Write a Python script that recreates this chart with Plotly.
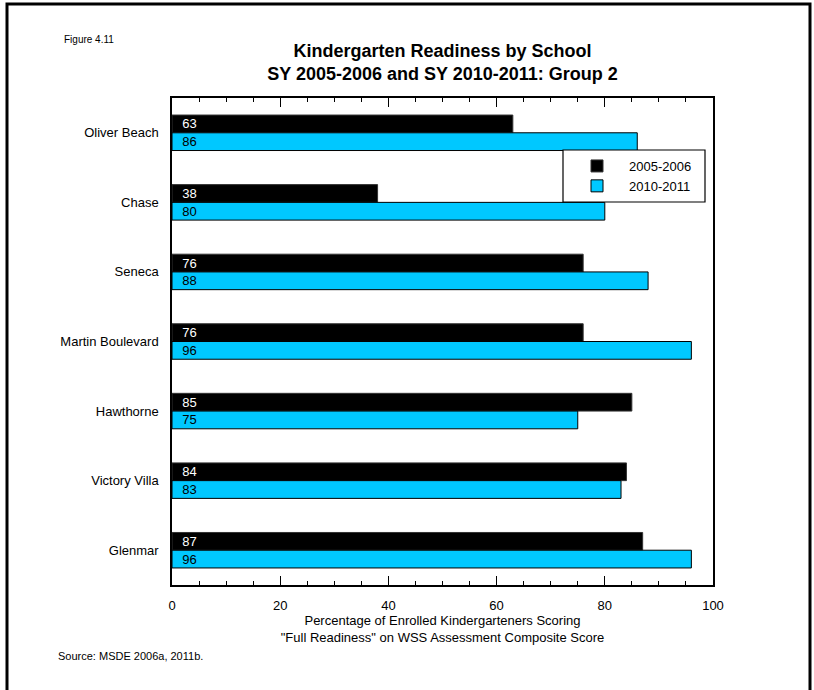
import plotly.graph_objects as go

schools = ["Oliver Beach", "Chase", "Seneca", "Martin Boulevard", "Hawthorne", "Victory Villa", "Glenmar"]
sy_2005_2006 = [63, 38, 76, 76, 85, 84, 87]
sy_2010_2011 = [86, 80, 88, 96, 75, 83, 96]
series_names = ["2005-2006", "2010-2011"]
x_ticks = [0, 20, 40, 60, 80, 100]

FONT = "Arial, 'Liberation Sans', sans-serif"
W, H = 814, 690
L, R, T, B = 172, 713, 98, 585  # plot area in pixels

def px_x(p):
    return (p - L) / (R - L)

def px_y(p):
    return (B - p) / (B - T)

NB = "\u00a0\u00a0"

fig = go.Figure()
fig.add_trace(go.Bar(
    y=schools, x=sy_2005_2006, name=series_names[0], orientation="h",
    marker=dict(color="#000000", line=dict(color="#333333", width=1)),
    text=[f"{NB}{v}" for v in sy_2005_2006], textposition="inside", insidetextanchor="start",
    constraintext="none",
    textfont=dict(color="white", size=13, family=FONT),
))
fig.add_trace(go.Bar(
    y=schools, x=sy_2010_2011, name=series_names[1], orientation="h",
    marker=dict(color="#00C8FF", line=dict(color="#000000", width=1)),
    text=[f"{NB}{v}" for v in sy_2010_2011], textposition="inside", insidetextanchor="start",
    constraintext="none",
    textfont=dict(color="black", size=13, family=FONT),
))

fig.update_layout(
    width=W, height=H,
    margin=dict(l=L, r=W - R, t=T, b=H - B, autoexpand=False),
    paper_bgcolor="white", plot_bgcolor="white",
    font=dict(family=FONT, size=13, color="black"),
    barmode="group", bargap=0.49, bargroupgap=0,
    showlegend=True,
    legend=dict(
        x=px_x(565), y=px_y(151), xanchor="left", yanchor="top",
        bgcolor="rgba(0,0,0,0)", borderwidth=0,
        font=dict(size=13, family=FONT), itemwidth=54,
        traceorder="normal",
    ),
    title=dict(
        text="<b>Kindergarten Readiness by School<br>SY 2005-2006 and SY 2010-2011: Group 2</b>",
        x=0.5, xref="paper", xanchor="center",
        y=1 - 57 / H, yref="container", yanchor="middle",
        font=dict(size=18, family=FONT, color="black"),
    ),
    xaxis=dict(
        range=[0, 100], tickvals=x_ticks, ticks="inside", ticklen=9, tickcolor="black",
        tickwidth=1, showgrid=False, zeroline=False,
        showline=True, linecolor="black", linewidth=1.5, mirror="ticks",
        minor=dict(dtick=5, ticks="inside", ticklen=4, tickcolor="black", showgrid=False),
        ticklabelstandoff=8, tickfont=dict(size=13),
        title=dict(text="Percentage of Enrolled Kindergarteners Scoring<br>\"Full Readiness\" on WSS Assessment Composite Score",
                   font=dict(size=13), standoff=4),
    ),
    yaxis=dict(
        autorange="reversed", showgrid=False, zeroline=False, ticks="",
        showline=True, linecolor="black", linewidth=1.5, mirror=True,
        ticklabelstandoff=9, tickfont=dict(size=13),
    ),
    shapes=[
        dict(type="rect", xref="paper", yref="paper",
             x0=px_x(7), x1=px_x(810), y0=px_y(720), y1=px_y(4),
             line=dict(color="black", width=3), fillcolor="rgba(0,0,0,0)", layer="below"),
        dict(type="rect", xref="paper", yref="paper",
             x0=px_x(563), x1=px_x(705), y0=px_y(202), y1=px_y(150),
             line=dict(color="black", width=1.2), fillcolor="white", layer="above"),
    ],
    annotations=[
        dict(text="Figure 4.11", xref="paper", yref="paper", x=px_x(62), y=px_y(40),
             xanchor="left", yanchor="middle", showarrow=False, font=dict(size=10)),
        dict(text="Source: MSDE 2006a, 2011b.", xref="paper", yref="paper", x=px_x(56), y=px_y(656),
             xanchor="left", yanchor="middle", showarrow=False, font=dict(size=11)),
    ],
)

fig.write_html(
    "out.html",
    config={"displayModeBar": False},
    post_script="document.body.style.margin='0';document.body.style.overflow='hidden';",
)
